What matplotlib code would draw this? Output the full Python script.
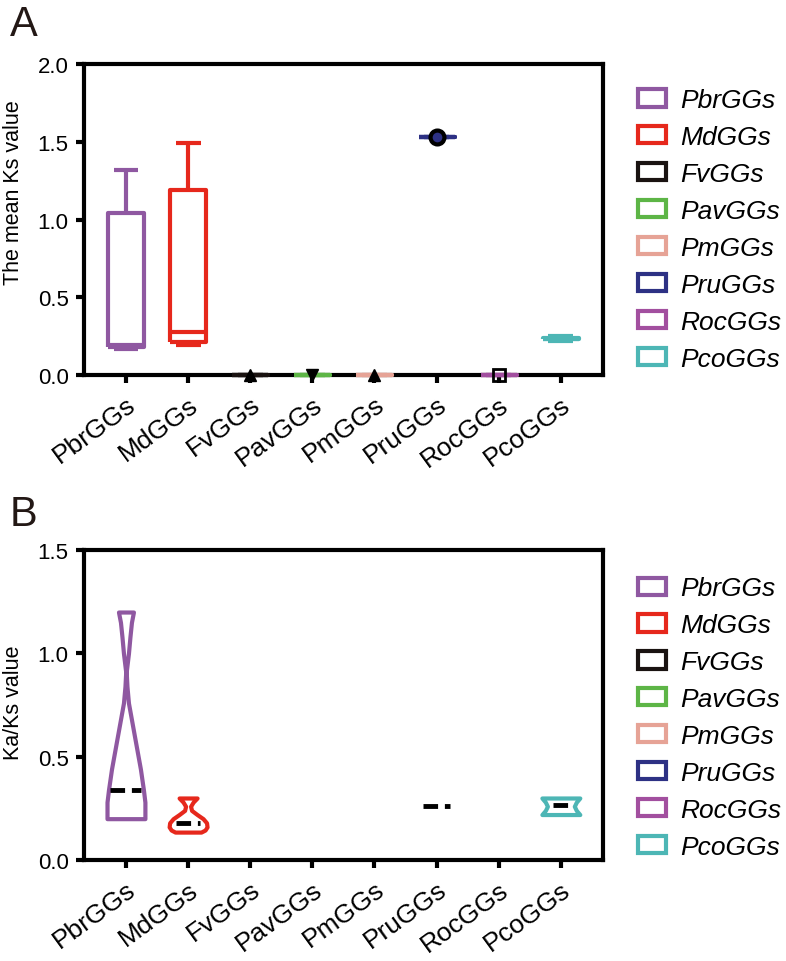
import matplotlib
matplotlib.use('Agg')
import matplotlib.pyplot as plt
from matplotlib.patches import Patch
import numpy as np

plt.rcParams['font.family'] = ['Liberation Sans', 'DejaVu Sans']

# ---------------- data ----------------
categories = ['PbrGGs', 'MdGGs', 'FvGGs', 'PavGGs', 'PmGGs', 'PruGGs', 'RocGGs', 'PcoGGs']
colors = ['#8F58A1', '#E6281C', '#1A1311', '#5DB546', '#E6A396', '#2D3184', '#A24F9F', '#4DB6B5']

# Panel A: mean Ks box statistics
ks_min = [0.17, 0.19, 0.0, 0.0, 0.0, 1.53, 0.0, 0.22]
ks_q1 = [0.18, 0.21, 0.0, 0.0, 0.0, 1.53, 0.0, 0.23]
ks_med = [0.19, 0.28, 0.0, 0.0, 0.0, 1.53, 0.0, 0.235]
ks_q3 = [1.04, 1.19, 0.0, 0.0, 0.0, 1.53, 0.0, 0.24]
ks_max = [1.32, 1.49, 0.0, 0.0, 0.0, 1.53, 0.0, 0.25]
ks_marker = [None, None, '^', 'v', '^', 'o', 's', None]

# Panel B: Ka/Ks violin density profiles (value, relative density)
pbr_kaks_y = [0.20, 0.24, 0.28, 0.34, 0.44, 0.52, 0.60, 0.68, 0.76, 0.84, 0.91, 0.96, 1.00, 1.08, 1.15, 1.20]
pbr_kaks_d = [38, 38, 38, 35, 29, 23, 17, 11, 5, 2, 0.5, 3, 5, 8, 11, 15]
md_kaks_y = [0.135, 0.145, 0.16, 0.18, 0.20, 0.22, 0.24, 0.26, 0.28, 0.30]
md_kaks_d = [26, 34, 38, 37, 30, 18, 7, 5, 10, 18]
pco_kaks_y = [0.22, 0.24, 0.26, 0.28, 0.30]
pco_kaks_d = [38, 31, 27, 31, 38]
kaks_median = [0.34, 0.18, None, None, None, 0.26, None, 0.265]

# ---------------- style ----------------
SP = 3.0
fig = plt.figure(figsize=(7.86, 9.62), dpi=100)
axA = fig.add_axes([0.1069, 0.6091, 0.660, 0.3233])
axB = fig.add_axes([0.1069, 0.1050, 0.660, 0.3222])

x = np.arange(len(categories))


def style_axis(ax, ylim, yticks):
    ax.set_xlim(-0.675, len(categories) - 1 + 0.675)
    ax.set_ylim(*ylim)
    ax.set_yticks(yticks)
    ax.set_yticklabels([f'{v:.1f}' for v in yticks], fontsize=16)
    ax.set_xticks(x)
    ax.set_xticklabels(categories, fontsize=19, rotation=36, ha='right', va='top',
                       rotation_mode='anchor')
    for s in ax.spines.values():
        s.set_linewidth(SP)
        s.set_color('black')
    ax.tick_params(axis='both', direction='out', length=6, width=SP, colors='black', pad=5)
    ax.tick_params(axis='x', pad=6)


# ---------------- panel A ----------------
stats = []
for i in range(len(categories)):
    stats.append(dict(med=ks_med[i], q1=ks_q1[i], q3=ks_q3[i],
                      whislo=ks_min[i], whishi=ks_max[i], fliers=[]))
bp = axA.bxp(stats, positions=x, widths=0.58, capwidths=0.4, showfliers=False,
             patch_artist=False, manage_ticks=False)
for i, c in enumerate(colors):
    for art in [bp['boxes'][i], bp['medians'][i],
                bp['whiskers'][2 * i], bp['whiskers'][2 * i + 1],
                bp['caps'][2 * i], bp['caps'][2 * i + 1]]:
        art.set_color(c)
        art.set_linewidth(SP)
        art.set_zorder(3)
        art.set_clip_on(False)
        art.set_solid_capstyle('butt')
for i, m in enumerate(ks_marker):
    if m is None:
        continue
    if m == 'o':
        axA.plot(x[i], ks_med[i], marker='o', ms=10, mfc=colors[i], mec='black', mew=3,
                 zorder=4, clip_on=False)
    elif m == 's':
        axA.plot(x[i], ks_med[i], marker='s', ms=9, mfc='none', mec='black', mew=2,
                 zorder=4, clip_on=False)
    else:
        axA.plot(x[i], ks_med[i], marker=m, ms=9, color='black', zorder=4, clip_on=False)

style_axis(axA, (0, 2.0), [0.0, 0.5, 1.0, 1.5, 2.0])
axA.set_ylabel('The mean Ks value', fontsize=15.5)
axA.yaxis.set_label_coords(-0.115, 0.59)

# ---------------- panel B ----------------
profiles = [(0, pbr_kaks_y, pbr_kaks_d), (1, md_kaks_y, md_kaks_d), (7, pco_kaks_y, pco_kaks_d)]
vpstats = []
vpos = []
for idx, ys, ds in profiles:
    ys = np.asarray(ys, float)
    vpstats.append(dict(coords=ys, vals=np.asarray(ds, float), mean=float(np.mean(ys)),
                        median=kaks_median[idx], min=ys.min(), max=ys.max()))
    vpos.append(idx)
vp = axB.violin(vpstats, positions=vpos, widths=0.61, showmeans=False,
                showextrema=False, showmedians=False)
for body, idx in zip(vp['bodies'], vpos):
    body.set_facecolor('white')
    body.set_edgecolor(colors[idx])
    body.set_linewidth(SP)
    body.set_alpha(1)
    body.set_zorder(3)

med_halfwidth = {0: 0.25, 1: 0.19, 5: 0.22, 7: 0.12}
for i, m in enumerate(kaks_median):
    if m is None:
        continue
    hw = med_halfwidth[i]
    axB.plot([x[i] - hw, x[i] + hw], [m, m], color='black', lw=3.5,
             linestyle=(0, (3, 1.4)), zorder=4)

style_axis(axB, (0, 1.5), [0.0, 0.5, 1.0, 1.5])
axB.set_ylabel('Ka/Ks value', fontsize=15.5)
axB.yaxis.set_label_coords(-0.115, 0.51)

# ---------------- legends ----------------
for ax, top in [(axA, 0.922), (axB, 0.915)]:
    handles = [Patch(facecolor='white', edgecolor=c, linewidth=SP) for c in colors]
    leg = ax.legend(handles, categories, loc='upper left', bbox_to_anchor=(1.068, top),
                    frameon=False, fontsize=19, handlelength=1.05, handleheight=0.62,
                    handletextpad=0.55, labelspacing=0.49, borderpad=0, borderaxespad=0)
    for t in leg.get_texts():
        t.set_fontstyle('italic')

fig.text(0.012, 0.995, 'A', fontsize=30, color='#231815', va='top', ha='left')
fig.text(0.012, 0.485, 'B', fontsize=30, color='#231815', va='top', ha='left')

fig.savefig('out.png', dpi=100)
